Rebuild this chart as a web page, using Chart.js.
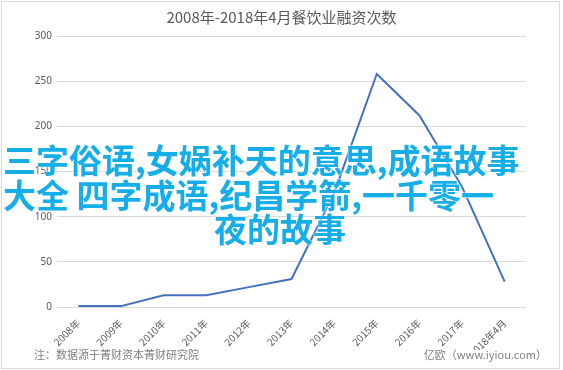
<!DOCTYPE html>
<html>
<head>
<meta charset="utf-8">
<script src="https://cdn.jsdelivr.net/npm/chart.js@4.4.0/dist/chart.umd.min.js"></script>
<style>
  body { margin: 0; background: #fff; font-family: "Noto Sans CJK SC", "Noto Sans", sans-serif; }
  #wrap { position: relative; width: 563px; height: 370px; overflow: hidden; }
  #frame { position: absolute; left: 1px; top: 1px; width: 557px; height: 366px; border: 1px solid #d9d9d9; }
  #title { position: absolute; left: 0; top: 6px; width: 563px; text-align: center; font-size: 15px; color: #595959; }
  .foot { position: absolute; top: 346px; font-size: 11px; color: #7f7f7f; }
  .over { position: absolute; font-size: 33px; font-weight: bold; color: #16aee8; white-space: pre;
          line-height: 34px; text-shadow: 0 0 2px #fff, 0 0 2px #fff; pointer-events: none; }
</style>
</head>
<body>
<div id="wrap">
  <div id="frame"></div>
  <canvas id="chart" width="563" height="370" style="position:absolute;left:0;top:0;"></canvas>
  <div id="title">2008年-2018年4月餐饮业融资次数</div>
  <div class="foot" style="left:34px;">注：数据源于菁财资本菁财研究院</div>
  <div class="foot" style="right:16px;">亿欧（www.iyiou.com）</div>
  <div class="over" style="left:3px;top:142px;">三字俗语,女娲补天的意思,成语故事</div>
  <div class="over" style="left:3px;top:177px;">大全 四字成语,纪昌学箭,一千零一</div>
  <div class="over" style="left:214px;top:211px;">夜的故事</div>
</div>
<script>
// 餐饮业融资次数
const years = ['2008年', '2009年', '2010年', '2011年', '2012年', '2013年', '2014年', '2015年', '2016年', '2017年', '2018年4月'];
const counts = [1, 1, 13, 13, 22, 31, 126, 258, 212, 133, 28];
const yTicks = [0, 50, 100, 150, 200, 250, 300];

const ctx = document.getElementById('chart').getContext('2d');
new Chart(ctx, {
    type: 'line',
    data: {
        labels: years,
        datasets: [{
            data: counts,
            borderColor: '#4470c0',
            borderWidth: 2,
            pointRadius: 0,
            tension: 0,
            fill: false
        }]
    },
    options: {
        responsive: false,
        animation: false,
        layout: { padding: { left: 0, right: 37, top: 36, bottom: 20 } },
        plugins: { legend: { display: false }, tooltip: { enabled: false } },
        scales: {
            x: {
                offset: true,
                grid: { display: false },
                border: { display: false },
                ticks: {
                    color: '#595959',
                    font: { size: 10, family: 'Noto Sans CJK SC' },
                    minRotation: 45,
                    maxRotation: 45,
                    padding: 2
                },
                afterFit: (scale) => { scale.height = 43; }
            },
            y: {
                min: 0,
                max: 300,
                afterBuildTicks: (scale) => { scale.ticks = yTicks.map(v => ({ value: v })); },
                grid: { color: '#d9d9d9', lineWidth: 1, drawTicks: false },
                border: { display: false },
                ticks: {
                    color: '#595959',
                    font: { size: 10, family: 'Noto Sans' },
                    padding: 5
                },
                afterFit: (scale) => { scale.width = 57; }
            }
        }
    }
});
</script>
</body>
</html>
